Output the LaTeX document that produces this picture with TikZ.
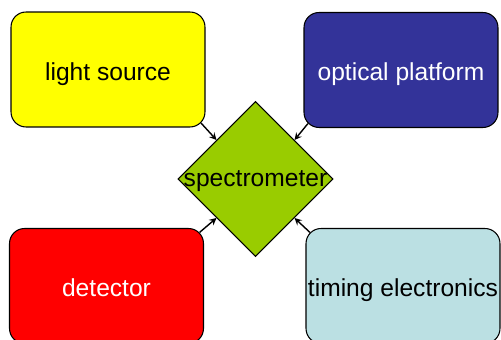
\documentclass[tikz,border=0pt]{standalone}
\usepackage{fontspec}
\setmainfont{Liberation Sans}
\usetikzlibrary{shapes.geometric,calc}

\definecolor{srcyellow}{HTML}{FFFF00}
\definecolor{platblue}{HTML}{333399}
\definecolor{detred}{HTML}{FF0000}
\definecolor{timecyan}{HTML}{BBE0E3}
\definecolor{specgreen}{HTML}{99CC00}

\tikzset{
  unit/.style={draw=black, line width=0.6pt, rounded corners=0.3cm,
    minimum width=3.88cm, minimum height=2.3cm, inner sep=0pt,
    text height=12pt, text depth=0pt, font=\fontsize{14}{17}\selectfont},
  hub/.style={diamond, aspect=1, draw=black, line width=0.6pt, fill=specgreen,
    minimum size=3.1cm, inner sep=0pt},
  hubtext/.style={inner sep=0pt, text height=9pt, text depth=0pt,
    font=\fontsize{14}{17}\selectfont},
  link/.style={->, line width=0.8pt}
}

\begin{document}
\begin{tikzpicture}[x=0.02cm, y=-0.02cm, >=stealth]
    % CORNICE
    \useasboundingbox (0,0) rectangle (501,340);

    % 1. BLOCCHI
    \node[unit, fill=srcyellow] (light) at (108,69.5) {light source};
    \node[unit, fill=platblue, text=white] (platform) at (401,70) {optical platform};
    \node[unit, fill=detred, text=white] (detector) at (106.5,286) {detector};
    \node[unit, fill=timecyan] (timing) at (403,286) {timing electronics};

    % 2. SPETTROMETRO
    \node[hub] (spec) at (255.5,179) {};
    \node[hubtext] (spectext) at (spec.center) {spectrometer};

    % 3. FRECCE
    \draw[link] ($(light.south east)+(-4.4,-4.4)$) -- ($(spec.west)!0.5!(spec.north)$);
    \draw[link] ($(platform.south west)+(4.4,-4.4)$) -- ($(spec.east)!0.5!(spec.north)$);
    \draw[link] ($(detector.north east)+(-4.4,4.4)$) -- ($(spec.west)!0.5!(spec.south)$);
    \draw[link] ($(timing.north west)+(4.4,4.4)$) -- ($(spec.east)!0.5!(spec.south)$);

\end{tikzpicture}
\end{document}
